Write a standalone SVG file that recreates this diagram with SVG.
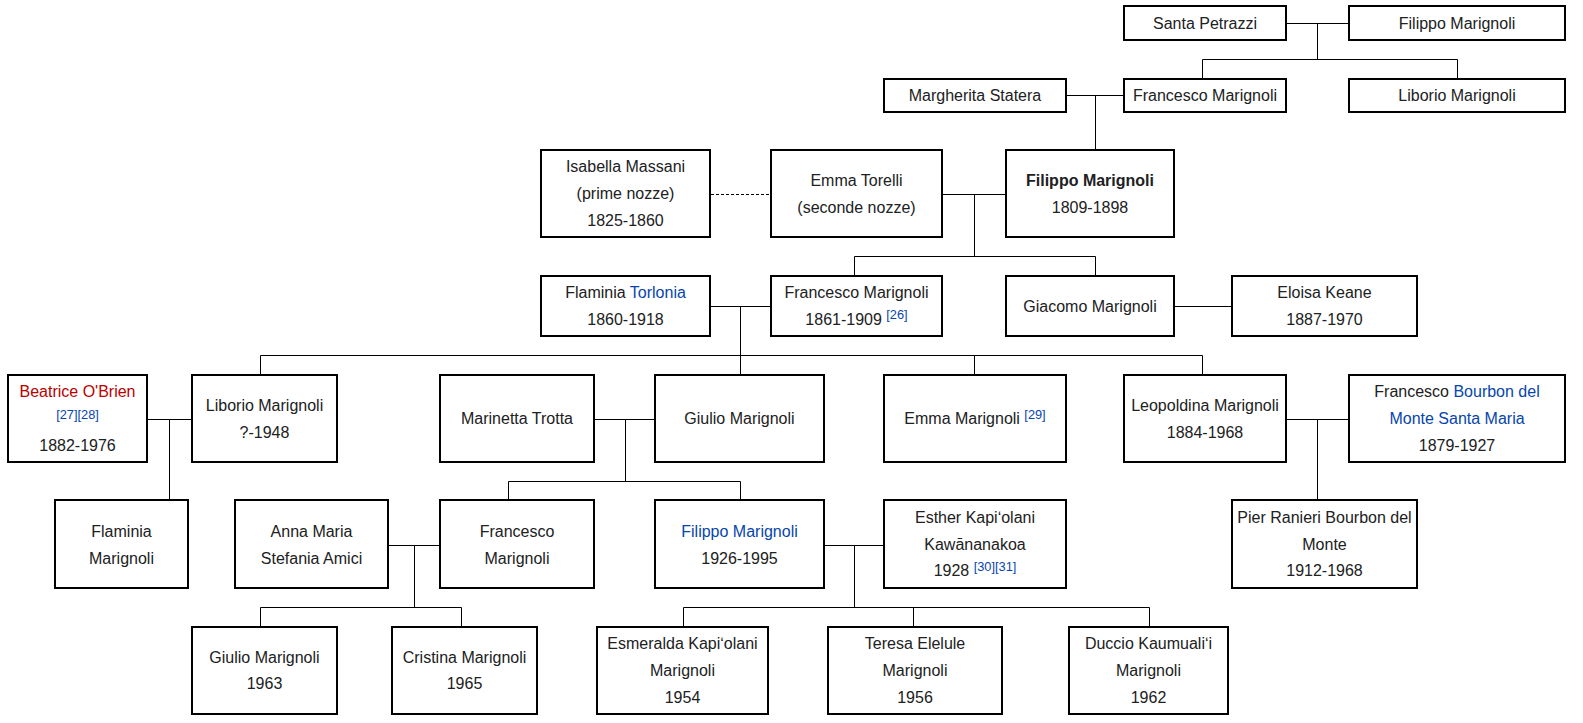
<svg xmlns="http://www.w3.org/2000/svg" width="1583" height="723" viewBox="0 0 1583 723">
<style>
.box{fill:#fff;stroke:#000;stroke-width:2}
.t{font-family:"Liberation Sans",Arial,sans-serif;font-size:16px;fill:#202122;text-anchor:middle}
.b{font-weight:bold}
.lnk{fill:#0645ad}
.new{fill:#ba0000}
.sup{font-size:12.8px;fill:#0645ad}
.c{stroke:#000;stroke-width:1;fill:none}
.dash{stroke-dasharray:3,2}
</style>
<rect width="1583" height="723" fill="#fff"/>
<g id="connectors">
<path class="c" d="M1287 23.5H1348M1317.5 23.5V59.5M1202.5 59.5H1457.5M1202.5 59.5V78M1457.5 59.5V78"/>
<path class="c" d="M1067 95.5H1123M1095.5 95.5V149"/>
<path class="c dash" d="M711 194.5H770"/>
<path class="c" d="M943 194.5H1005M974.5 194.5V256.5M854.5 256.5H1095.5M854.5 256.5V275M1095.5 256.5V275"/>
<path class="c" d="M711 306.5H770M740.5 306.5V374M260.5 355.5H1202.5M260.5 355.5V374M974.5 355.5V374M1202.5 355.5V374"/>
<path class="c" d="M1175 306.5H1231"/>
<path class="c" d="M148 419.5H191M169.5 419.5V499"/>
<path class="c" d="M595 419.5H654M625.5 419.5V481.5M508.5 481.5H740.5M508.5 481.5V499M740.5 481.5V499"/>
<path class="c" d="M1287 419.5H1348M1317.5 419.5V499"/>
<path class="c" d="M389 545.5H439M414.5 545.5V607.5M260.5 607.5H461.5M260.5 607.5V626M461.5 607.5V626"/>
<path class="c" d="M825 545.5H883M854.5 545.5V607.5M683.5 607.5H1149.5M683.5 607.5V626M913.5 607.5V626M1149.5 607.5V626"/>
</g>
<g id="santa-petrazzi"><rect class="box" x="1124" y="6" width="162" height="34"/><text class="t" x="1205" y="29">Santa Petrazzi</text></g>
<g id="filippo-marignoli-sr"><rect class="box" x="1349" y="6" width="216" height="34"/><text class="t" x="1457" y="29">Filippo Marignoli</text></g>
<g id="margherita-statera"><rect class="box" x="884" y="79" width="182" height="33"/><text class="t" x="975" y="101">Margherita Statera</text></g>
<g id="francesco-marignoli-sr"><rect class="box" x="1124" y="79" width="162" height="33"/><text class="t" x="1205" y="101">Francesco Marignoli</text></g>
<g id="liborio-marignoli-sr"><rect class="box" x="1349" y="79" width="216" height="33"/><text class="t" x="1457" y="101">Liborio Marignoli</text></g>
<g id="isabella-massani"><rect class="box" x="541" y="150" width="169" height="87"/><text class="t" x="625.5" y="172">Isabella Massani</text><text class="t" x="625.5" y="199">(prime nozze)</text><text class="t" x="625.5" y="225.5">1825-1860</text></g>
<g id="emma-torelli"><rect class="box" x="771" y="150" width="171" height="87"/><text class="t" x="856.5" y="185.5">Emma Torelli</text><text class="t" x="856.5" y="213">(seconde nozze)</text></g>
<g id="filippo-marignoli"><rect class="box" x="1006" y="150" width="168" height="87"/><text class="t b" x="1090" y="185.5">Filippo Marignoli</text><text class="t" x="1090" y="213">1809-1898</text></g>
<g id="flaminia-torlonia"><rect class="box" x="541" y="276" width="169" height="60"/><text class="t" x="625.5" y="298">Flaminia <tspan class="lnk">Torlonia</tspan></text><text class="t" x="625.5" y="324.5">1860-1918</text></g>
<g id="francesco-marignoli-1861"><rect class="box" x="771" y="276" width="171" height="60"/><text class="t" x="856.5" y="298">Francesco Marignoli</text><text class="t" x="856.5" y="324.5">1861-1909 <tspan class="sup" dy="-5.5">[26]</tspan></text></g>
<g id="giacomo-marignoli"><rect class="box" x="1006" y="276" width="168" height="60"/><text class="t" x="1090" y="311.5">Giacomo Marignoli</text></g>
<g id="eloisa-keane"><rect class="box" x="1232" y="276" width="185" height="60"/><text class="t" x="1324.5" y="298">Eloisa Keane</text><text class="t" x="1324.5" y="324.5">1887-1970</text></g>
<g id="beatrice-obrien"><rect class="box" x="8" y="375" width="139" height="87"/><text class="t new" x="77.5" y="396.5">Beatrice O'Brien</text><text class="t sup" x="77.5" y="418.5">[27][28]</text><text class="t" x="77.5" y="450.5">1882-1976</text></g>
<g id="liborio-marignoli"><rect class="box" x="192" y="375" width="145" height="87"/><text class="t" x="264.5" y="411">Liborio Marignoli</text><text class="t" x="264.5" y="437.5">?-1948</text></g>
<g id="marinetta-trotta"><rect class="box" x="440" y="375" width="154" height="87"/><text class="t" x="517" y="424">Marinetta Trotta</text></g>
<g id="giulio-marignoli"><rect class="box" x="655" y="375" width="169" height="87"/><text class="t" x="739.5" y="424">Giulio Marignoli</text></g>
<g id="emma-marignoli"><rect class="box" x="884" y="375" width="182" height="87"/><text class="t" x="975" y="424">Emma Marignoli <tspan class="sup" dy="-5.5">[29]</tspan></text></g>
<g id="leopoldina-marignoli"><rect class="box" x="1124" y="375" width="162" height="87"/><text class="t" x="1205" y="411">Leopoldina Marignoli</text><text class="t" x="1205" y="437.5">1884-1968</text></g>
<g id="francesco-bourbon"><rect class="box" x="1349" y="375" width="216" height="87"/><text class="t" x="1457" y="397">Francesco <tspan class="lnk">Bourbon del</tspan></text><text class="t lnk" x="1457" y="423.5">Monte Santa Maria</text><text class="t" x="1457" y="450.5">1879-1927</text></g>
<g id="flaminia-marignoli"><rect class="box" x="55" y="500" width="133" height="88"/><text class="t" x="121.5" y="537">Flaminia</text><text class="t" x="121.5" y="564">Marignoli</text></g>
<g id="anna-maria-amici"><rect class="box" x="235" y="500" width="153" height="88"/><text class="t" x="311.5" y="537">Anna Maria</text><text class="t" x="311.5" y="564">Stefania Amici</text></g>
<g id="francesco-marignoli-jr"><rect class="box" x="440" y="500" width="154" height="88"/><text class="t" x="517" y="537">Francesco</text><text class="t" x="517" y="564">Marignoli</text></g>
<g id="filippo-marignoli-1926"><rect class="box" x="655" y="500" width="169" height="88"/><text class="t lnk" x="739.5" y="537">Filippo Marignoli</text><text class="t" x="739.5" y="564">1926-1995</text></g>
<g id="esther-kawananakoa"><rect class="box" x="884" y="500" width="182" height="88"/><text class="t" x="975" y="523">Esther Kapiʻolani</text><text class="t" x="975" y="549.5">Kawānanakoa</text><text class="t" x="975" y="576">1928 <tspan class="sup" dy="-5.5">[30][31]</tspan></text></g>
<g id="pier-ranieri"><rect class="box" x="1232" y="500" width="185" height="88"/><text class="t" x="1324.5" y="523">Pier Ranieri Bourbon del</text><text class="t" x="1324.5" y="549.5">Monte</text><text class="t" x="1324.5" y="576">1912-1968</text></g>
<g id="giulio-marignoli-1963"><rect class="box" x="192" y="627" width="145" height="87"/><text class="t" x="264.5" y="662.5">Giulio Marignoli</text><text class="t" x="264.5" y="688.5">1963</text></g>
<g id="cristina-marignoli"><rect class="box" x="392" y="627" width="145" height="87"/><text class="t" x="464.5" y="662.5">Cristina Marignoli</text><text class="t" x="464.5" y="688.5">1965</text></g>
<g id="esmeralda-marignoli"><rect class="box" x="597" y="627" width="171" height="87"/><text class="t" x="682.5" y="649">Esmeralda Kapiʻolani</text><text class="t" x="682.5" y="676">Marignoli</text><text class="t" x="682.5" y="702.5">1954</text></g>
<g id="teresa-marignoli"><rect class="box" x="828" y="627" width="174" height="87"/><text class="t" x="915" y="649">Teresa Elelule</text><text class="t" x="915" y="676">Marignoli</text><text class="t" x="915" y="702.5">1956</text></g>
<g id="duccio-marignoli"><rect class="box" x="1069" y="627" width="159" height="87"/><text class="t" x="1148.5" y="649">Duccio Kaumualiʻi</text><text class="t" x="1148.5" y="676">Marignoli</text><text class="t" x="1148.5" y="702.5">1962</text></g>
</svg>
